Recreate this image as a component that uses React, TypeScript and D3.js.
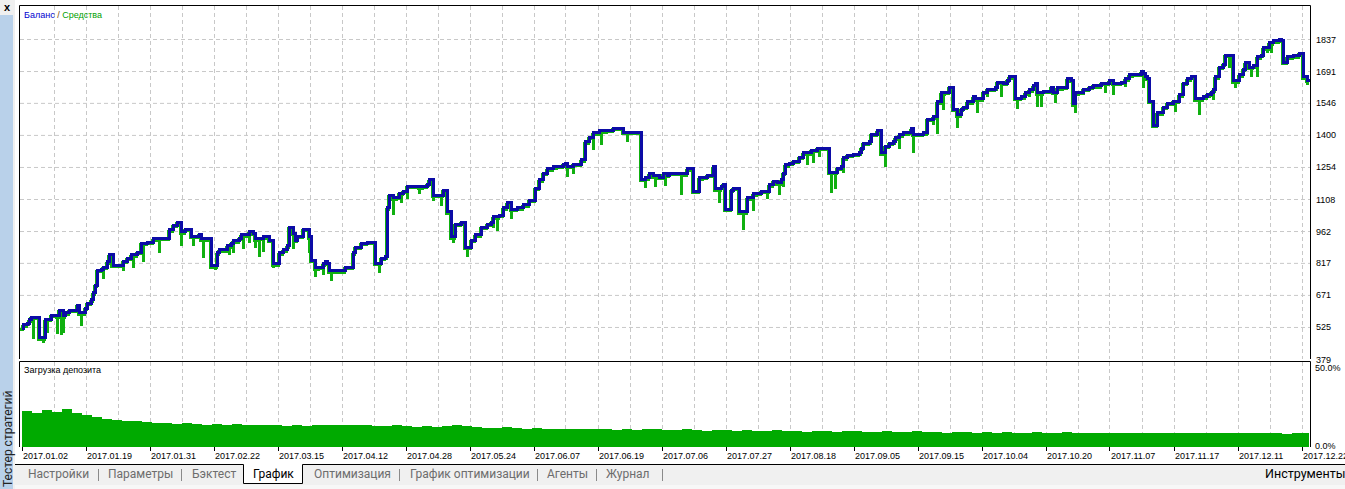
import React from "react";
import * as d3 from "d3";

// balance curve: [trade number, balance]
const balancePts: [number, number][] = [
  [0,520],[1,534],[3,543],[4,557],[5,570],[9,475],[12,557],[13,561],[15,579],[18,575],[19,602],[21,575],[22,589],[24,602],[28,625],[29,589],[32,611],[33,634],[35,648],[36,680],[37,716],[38,784],[40,789],[41,798],[43,821],[44,853],[46,807],[51,825],[53,839],[55,853],[58,866],[60,907],[63,912],[66,926],[68,930],[74,967],[76,989],[78,1003],[80,958],[82,971],[85,939],[89,948],[90,926],[94,930],[95,803],[98,862],[99,876],[103,894],[105,907],[106,917],[109,930],[110,944],[114,958],[116,953],[117,926],[119,930],[121,935],[123,939],[124,921],[126,812],[129,862],[131,876],[133,894],[134,980],[136,953],[137,921],[138,939],[141,971],[144,935],[145,830],[147,794],[149,798],[151,812],[152,821],[153,816],[154,780],[162,798],[166,862],[167,889],[170,907],[173,912],[177,816],[180,839],[182,844],[183,1067],[184,1126],[186,1113],[188,1117],[189,1135],[191,1144],[193,1167],[199,1163],[201,1167],[203,1176],[204,1195],[206,1126],[211,1149],[213,1049],[215,935],[217,994],[220,1003],[221,999],[222,889],[225,921],[227,944],[230,980],[233,994],[235,1003],[236,1026],[239,1035],[241,1067],[243,1090],[245,1062],[248,1067],[251,1081],[254,1103],[257,1158],[259,1195],[261,1226],[263,1245],[266,1254],[268,1258],[271,1267],[272,1272],[273,1258],[276,1267],[280,1286],[282,1368],[284,1390],[286,1409],[289,1418],[293,1422],[296,1431],[301,1413],[310,1199],[312,1204],[314,1222],[316,1213],[319,1208],[321,1222],[323,1217],[324,1226],[331,1222],[333,1245],[335,1249],[336,1144],[339,1204],[341,1208],[343,1217],[346,1254],[347,1154],[350,1163],[351,1176],[352,1062],[355,1149],[356,1158],[359,1049],[363,1113],[365,1117],[366,1131],[368,1135],[370,1144],[374,1172],[376,1190],[378,1181],[380,1195],[381,1226],[382,1263],[384,1272],[386,1281],[389,1299],[391,1318],[395,1331],[398,1340],[404,1231],[408,1249],[410,1254],[411,1295],[413,1308],[416,1313],[419,1318],[420,1340],[421,1363],[424,1368],[425,1404],[428,1418],[430,1318],[432,1349],[434,1363],[436,1368],[437,1386],[439,1400],[441,1409],[444,1413],[445,1427],[446,1404],[451,1409],[453,1472],[456,1482],[458,1550],[460,1591],[462,1595],[464,1618],[466,1518],[468,1491],[470,1518],[471,1527],[473,1550],[476,1573],[477,1564],[481,1595],[483,1609],[487,1614],[488,1641],[491,1636],[493,1650],[494,1664],[496,1668],[497,1568],[500,1573],[502,1591],[504,1605],[506,1623],[507,1632],[508,1591],[511,1600],[515,1618],[516,1595],[518,1614],[521,1618],[523,1655],[525,1650],[526,1541],[527,1591],[529,1595],[531,1609],[534,1618],[536,1627],[537,1623],[540,1636],[544,1646],[546,1636],[550,1641],[552,1655],[554,1673],[556,1677],[560,1687],[561,1682],[562,1668],[563,1659],[564,1554],[566,1445],[568,1500],[571,1527],[573,1545],[576,1554],[579,1582],[581,1636],[583,1655],[585,1664],[587,1564],[591,1573],[593,1586],[595,1595],[596,1605],[597,1664],[599,1709],[601,1723],[602,1764],[605,1760],[606,1646],[609,1673],[611,1700],[612,1728],[614,1709],[616,1714],[618,1755],[620,1764],[621,1796],[624,1819],[626,1828],[629,1837],[630,1832],[631,1732],[633,1755],[636,1760],[639,1773],[641,1664],[643,1650],[644,1650]
];

// equity drawdowns: [trade number, equity low]
const equityDips: [number, number][] = [
  [6,470],[11,452],[13,497],[18,493],[20,488],[21,497],[30,529],[41,743],[45,794],[51,780],[56,794],[61,821],[69,862],[80,894],[86,894],[91,839],[96,853],[97,784],[104,853],[106,862],[111,880],[114,907],[117,885],[119,844],[121,866],[126,794],[130,853],[132,889],[136,880],[144,862],[147,753],[151,762],[155,734],[168,885],[170,885],[179,771],[186,1035],[190,1090],[193,1108],[199,1131],[206,1099],[210,1076],[216,907],[223,844],[227,921],[236,976],[238,962],[245,1017],[252,1071],[259,1158],[273,1208],[276,1222],[286,1331],[290,1354],[303,1368],[312,1158],[317,1163],[322,1167],[330,1126],[337,1135],[349,1090],[353,1058],[361,967],[366,1053],[373,1108],[379,1126],[381,1163],[393,1263],[396,1272],[399,1299],[405,1135],[407,1154],[411,1226],[432,1254],[439,1336],[446,1318],[453,1400],[456,1445],[458,1404],[461,1513],[468,1431],[473,1522],[478,1500],[483,1573],[490,1573],[498,1518],[504,1573],[508,1527],[510,1527],[517,1545],[527,1500],[531,1582],[542,1591],[546,1582],[552,1618],[561,1614],[568,1436],[571,1513],[577,1504],[589,1491],[594,1568],[596,1559],[604,1705],[607,1614],[615,1664],[618,1664],[623,1773],[625,1773],[631,1718],[637,1750],[643,1627]
];

// deposit load, % (one value per 5 trades)
const depositLoad: number[] = [
  22.5,21,23,22,24,21,20,19,17.5,17,
  16.5,16,15.5,15,15,14.5,15,14.5,14,14.5,
  14,14.5,14,13.5,14,13.5,13,13.5,13,13.5,
  13.5,14,13.5,14,13.5,13,13,13.5,13,12.5,
  13,12.5,13,13.5,13,12.5,12,12,12.5,12,
  11.5,12,11.5,11.5,11,11.5,11,11.5,11,10.5,
  11,10.5,11,11,10.5,10.5,11,10.5,10,10.5,
  10.5,10,10.5,10,10,10.5,10,10,9.5,10,
  10,9.5,10,10,9.5,9.5,10,9.5,9.5,10,
  9.5,9.5,9,9.5,9.5,9,9.5,9,9.5,9,
  9,9.5,9,9,9.5,9,9,8.5,9,9,
  9,8.5,8.5,9,9,8.5,9,8.5,8.5,9,
  8.5,8.5,9,8.5,8.5,8.5,8,8.5,8.5
];

const dateLabels: string[] = [
  "2017.01.02","2017.01.19","2017.01.31","2017.02.22","2017.03.15","2017.04.12","2017.04.28",
  "2017.05.24","2017.06.07","2017.06.19","2017.07.06","2017.07.27","2017.08.18","2017.09.05",
  "2017.09.15","2017.10.04","2017.10.20","2017.11.07","2017.11.17","2017.12.11","2017.12.22"
];

const yTicks: number[] = [379, 525, 671, 817, 962, 1108, 1254, 1400, 1546, 1691, 1837];
const loadTicks: string[] = ["50.0%", "0.0%"];

const tabNames: string[] = ["Настройки","Параметры","Бэктест","График","Оптимизация","График оптимизации","Агенты","Журнал"];
const tabX: number[] = [28, 108, 192, 253, 314, 410, 547, 606];
const tabSeps: number[] = [98, 181, 399, 537, 596, 662];

const TOTAL_TRADES = 645;
const BLUE = "#0C0CA6";
const GREEN = "#10B010";
const GRID = "#C8C8C8";
const FONT = "'Liberation Sans', Arial, sans-serif";
const UIFONT = "Roboto, 'Noto Sans', sans-serif";

export default function App() {
  const W = 1345, H = 489;
  const L = 19.5, R = 1310.5, T = 5.5;
  const x = d3.scaleLinear().domain([0, TOTAL_TRADES]).range([21.5, 1311.5]);
  const y = d3.scaleLinear().domain([379, 1837]).range([359, 39]);
  const yDep = d3.scaleLinear().domain([0, 50]).range([447, 367]);

  const line = d3.line<[number, number]>()
    .x(d => x(d[0]))
    .y(d => y(d[1]))
    .curve(d3.curveStepAfter);
  const balPath = line(balancePts) || "";

  const bis = d3.bisector((d: [number, number]) => d[0]).right;
  const balAt = (t: number) => balancePts[Math.max(0, bis(balancePts, t) - 1)][1];

  const gridTrades = d3.range(16, TOTAL_TRADES, 16).filter(t => x(t) < R - 2);
  const labelTrades = dateLabels.map((_, i) => i * 32);

  return (
    <svg width={W} height={H} style={{ position: "absolute", left: 0, top: 0, display: "block" }}>
      <rect x={0} y={0} width={W} height={H} fill="#fff" />
      {/* left sidebar */}
      <rect x={0} y={0} width={15} height={H} fill="#F0F0F0" />
      <rect x={0} y={15} width={13} height={H - 15} fill="#B9D1EA" />
      <text x={7} y={11} textAnchor="middle" fontFamily={FONT} fontWeight="bold" fontSize={11} fill="#000">x</text>
      <text transform="translate(12,487) rotate(-90)" fontFamily={UIFONT} fontSize={12} fill="#222">Тестер стратегий</text>

      <defs>
        <clipPath id="mainClip"><rect x={20} y={6} width={1290} height={353} /></clipPath>
        <clipPath id="depClip"><rect x={20} y={362} width={1289} height={85} /></clipPath>
      </defs>

      {/* main grid */}
      <g stroke={GRID} strokeDasharray="4,3" strokeWidth={1}>
        {gridTrades.map(t => (
          <line key={"v" + t} x1={Math.round(x(t)) + 0.5} x2={Math.round(x(t)) + 0.5} y1={6} y2={359} />
        ))}
        {yTicks.slice(1).map(v => (
          <line key={"h" + v} x1={20} x2={1310} y1={y(v) + 0.5} y2={y(v) + 0.5} />
        ))}
        {gridTrades.map(t => (
          <line key={"dv" + t} x1={Math.round(x(t)) + 0.5} x2={Math.round(x(t)) + 0.5} y1={362} y2={447} />
        ))}
      </g>

      {/* equity + balance */}
      <g clipPath="url(#mainClip)" shapeRendering="crispEdges">
        <path d={balPath} fill="none" stroke={GREEN} strokeWidth={3} transform="translate(-1.5,1.5)" />
        {equityDips.filter(d => d[1] < balAt(d[0])).map((d, i) => (
          <line key={"dip" + i} x1={x(d[0]) - 0.5} x2={x(d[0]) - 0.5} y1={y(balAt(d[0]))} y2={y(d[1])}
            stroke={GREEN} strokeWidth={3} />
        ))}
        <path d={balPath} fill="none" stroke={BLUE} strokeWidth={3} />
      </g>

      {/* main frame */}
      <path d={`M${L},359 V${T} H${R} V359`} fill="none" stroke="#000" strokeWidth={1} />
      <text x={24} y={18} fontFamily={FONT} fontSize={9}>
        <tspan fill="#0000D0">Баланс</tspan>
        <tspan fill="#7A4A00"> / </tspan>
        <tspan fill="#00A000">Средства</tspan>
      </text>

      {/* right axis */}
      <g fontFamily={FONT} fontSize={9} fill="#000">
        {yTicks.map(v => (
          <text key={"yl" + v} x={1316} y={y(v) + 3.5}>{v}</text>
        ))}
      </g>

      {/* deposit load panel */}
      <g clipPath="url(#depClip)" shapeRendering="crispEdges">
        {depositLoad.map((v, i) => {
          const x0 = x(i * 5);
          const x1 = x(Math.min((i + 1) * 5, TOTAL_TRADES));
          return <rect key={"dl" + i} x={x0} y={yDep(v)} width={x1 - x0 + 0.3} height={yDep(0) - yDep(v)} fill="#00AA00" />;
        })}
      </g>
      <path d={`M${L},447 V361.5 H${R} V447`} fill="none" stroke="#000" strokeWidth={1} />
      <text x={24} y={373} fontFamily={FONT} fontSize={9} fill="#000">Загрузка депозита</text>
      <text x={1315} y={371} fontFamily={FONT} fontSize={9} fill="#000">{loadTicks[0]}</text>
      <text x={1315} y={449} fontFamily={FONT} fontSize={9} fill="#000">{loadTicks[1]}</text>

      {/* x axis */}
      <g fontFamily={FONT} fontSize={9} fill="#000">
        {labelTrades.map((t, i) => (
          <g key={"xl" + i}>
            <line x1={Math.round(x(t)) + 0.5} x2={Math.round(x(t)) + 0.5} y1={447} y2={451} stroke="#000" />
            <text x={x(t) + 1.5} y={458.5}>{dateLabels[i]}</text>
          </g>
        ))}
      </g>

      {/* tab bar */}
      <rect x={15} y={465} width={W - 15} height={24} fill="#F0F0F0" />
      <rect x={15} y={485} width={W - 15} height={4} fill="#F7F7F7" />
      <path d="M15,464.5 H243.5 V483.5 H302.5 V464.5 H1345" fill="none" stroke="#000" strokeWidth={1} />
      <rect x={244} y={465} width={58} height={18} fill="#fff" />
      <g stroke="#8A8A8A" strokeWidth={1}>
        {tabSeps.map(s => <line key={"sep" + s} x1={s + 0.5} x2={s + 0.5} y1={469} y2={481} />)}
      </g>
      <g fontFamily={UIFONT} fontSize={12}>
        {tabNames.map((n, i) => (
          <text key={"tab" + i} x={tabX[i]} y={478} fill={i === 3 ? "#000" : "#6D6D6D"}>{n}</text>
        ))}
      </g>
      <text x={1265} y={478} fontFamily={UIFONT} fontSize={12.5} fill="#000">Инструменты</text>
    </svg>
  );
}
